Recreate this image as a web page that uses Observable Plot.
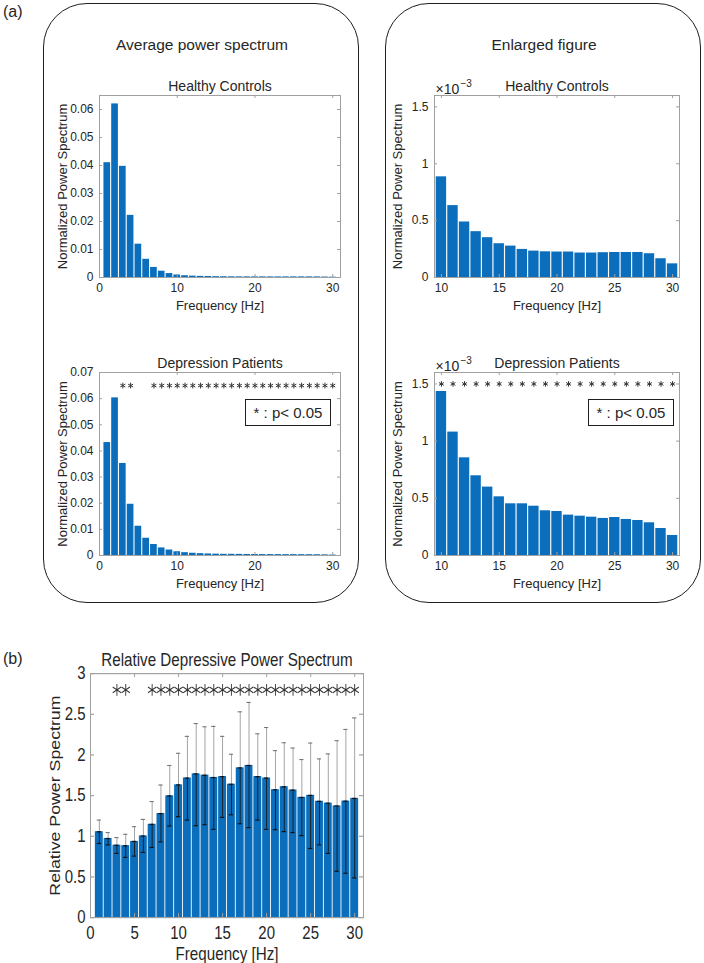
<!DOCTYPE html>
<html><head><meta charset="utf-8">
<script src="https://cdn.jsdelivr.net/npm/d3@7"></script>
<script src="https://cdn.jsdelivr.net/npm/@observablehq/plot@0.6"></script>
<style>
body{margin:0;background:#fff;}
#fig{position:relative;width:704px;height:963px;overflow:hidden;font-family:"Liberation Sans",Arial,sans-serif;color:#262626;background:#fff;}
.lbl{position:absolute;white-space:nowrap;line-height:1;}
.ctr{transform:translate(-50%,-50%);}
.box{position:absolute;border:1.5px solid #1e1e1e;border-radius:44px;box-sizing:border-box;}
.legend{position:absolute;border:1.5px solid #1e1e1e;background:#fff;font-size:15px;display:flex;align-items:center;justify-content:center;box-sizing:border-box;}
svg{position:absolute;}
</style></head><body><div id="fig"></div>
<script>
// ---------------- data ----------------
const freqLow = [1, 2, 3, 4, 5, 6, 7, 8, 9];
const freqHigh = [10, 11, 12, 13, 14, 15, 16, 17, 18, 19, 20, 21, 22, 23, 24, 25, 26, 27, 28, 29, 30];
const freqAll = [1, 2, 3, 4, 5, 6, 7, 8, 9, 10, 11, 12, 13, 14, 15, 16, 17, 18, 19, 20, 21, 22, 23, 24, 25, 26, 27, 28, 29, 30];

// Healthy controls, normalized power (1-9 Hz)
const hcLow = [0.041, 0.062, 0.0397, 0.0222, 0.0119, 0.0065, 0.0036, 0.00225, 0.0014];
// Healthy controls, 10-30 Hz, in units of 1e-3
const hcHigh = [0.885, 0.632, 0.488, 0.403, 0.350, 0.297, 0.276, 0.247, 0.232, 0.226, 0.224, 0.224, 0.215, 0.215, 0.218, 0.220, 0.220, 0.220, 0.209, 0.165, 0.120];
// Depression patients (1-9 Hz)
const dpLow = [0.0432, 0.0603, 0.0352, 0.0196, 0.0112, 0.0066, 0.0042, 0.0029, 0.0021];
// Depression patients, 10-30 Hz, in units of 1e-3
const dpHigh = [1.434, 1.079, 0.854, 0.697, 0.598, 0.513, 0.452, 0.452, 0.431, 0.391, 0.385, 0.353, 0.344, 0.335, 0.324, 0.332, 0.315, 0.306, 0.286, 0.236, 0.175];

// Relative depressive power spectrum (mean, lower and upper error bar ends)
const relMean = [1.055, 0.972, 0.889, 0.883, 0.936, 1.003, 1.146, 1.279, 1.496, 1.631, 1.715, 1.766, 1.750, 1.722, 1.733, 1.639, 1.840, 1.870, 1.733, 1.715, 1.571, 1.608, 1.567, 1.477, 1.502, 1.429, 1.406, 1.372, 1.431, 1.465];
const relLow = [0.911, 0.894, 0.789, 0.740, 0.756, 0.801, 0.862, 0.931, 1.126, 1.240, 1.199, 1.130, 1.142, 1.085, 1.232, 1.264, 1.154, 1.106, 1.199, 1.085, 1.081, 1.057, 1.045, 1.008, 0.850, 0.894, 0.789, 0.569, 0.545, 0.488];
const relHigh = [1.199, 1.045, 0.984, 1.024, 1.118, 1.207, 1.427, 1.630, 1.870, 2.020, 2.228, 2.386, 2.346, 2.350, 2.228, 2.008, 2.530, 2.645, 2.260, 2.337, 2.053, 2.150, 2.085, 1.943, 2.146, 1.951, 2.012, 2.175, 2.313, 2.455];

// significant frequencies (p < 0.05)
const sigAll = [3, 4, 7, 8, 9, 10, 11, 12, 13, 14, 15, 16, 17, 18, 19, 20, 21, 22, 23, 24, 25, 26, 27, 28, 29, 30];
const sigHigh = [10, 11, 12, 13, 14, 15, 16, 17, 18, 19, 20, 21, 22, 23, 24, 25, 26, 27, 28, 29, 30];

// tick labels
const ticksFull = [0, 10, 20, 30];
const ticksEnl = [10, 15, 20, 25, 30];
const ticksRel = [0, 5, 10, 15, 20, 25, 30];
const yTicksHC = [0, 0.01, 0.02, 0.03, 0.04, 0.05, 0.06];
const yTicksDP = [0, 0.01, 0.02, 0.03, 0.04, 0.05, 0.06, 0.07];
const yTicksEnl = [0, 0.5, 1, 1.5];
const yTicksRel = [0, 0.5, 1, 1.5, 2, 2.5, 3];

// ---------------- drawing ----------------
const BLUE = "#0A6EBD";
const FRAME = "#a0a0a0";
const TXT = "#262626";
const FONT = '"Liberation Sans", Arial, sans-serif';
const fig = document.getElementById("fig");

function html(text, cls, style) {
  const d = document.createElement("div");
  d.className = cls;
  d.textContent = text;
  Object.assign(d.style, style);
  fig.appendChild(d);
  return d;
}

// rounded boxes
html("", "box", {left: "43px", top: "3px", width: "316px", height: "600px"});
html("", "box", {left: "385px", top: "3px", width: "316px", height: "600px"});
html("(a)", "lbl", {left: "3px", top: "4px", fontSize: "16px"});
html("(b)", "lbl", {left: "3px", top: "651px", fontSize: "16px"});
html("Average power spectrum", "lbl ctr", {left: "202px", top: "45px", fontSize: "15.5px"});
html("Enlarged figure", "lbl ctr", {left: "544px", top: "45px", fontSize: "15.5px"});

function place(svg, left, top) {
  svg.style.left = left + "px";
  svg.style.top = top + "px";
  fig.appendChild(svg);
}

function small(cfg) {
  const ih = cfg.height - cfg.mT - cfg.mB;
  const iw = cfg.width - cfg.mL - cfg.mR;
  const bars = cfg.freq.map((f, i) => ({f, v: cfg.vals[i]}));
  const marks = [
    Plot.rectY(bars, {x1: d => d.f - cfg.hw, x2: d => d.f + cfg.hw, y1: 0, y2: "v", fill: BLUE}),
    Plot.frame({stroke: FRAME}),
    Plot.tickX(cfg.xTicks, {x: d => d, insetTop: ih - 3, stroke: FRAME}),
    Plot.tickX(cfg.xTicks, {x: d => d, insetBottom: ih - 3, stroke: FRAME}),
    Plot.tickY(cfg.yTicks, {y: d => d, insetRight: iw - 3, stroke: FRAME}),
    Plot.tickY(cfg.yTicks, {y: d => d, insetLeft: iw - 3, stroke: FRAME}),
    Plot.axisX({ticks: cfg.xTicks, tickSize: 0, tickPadding: 6, label: null, tickFormat: d => String(d), fontSize: 12}),
    Plot.axisY({ticks: cfg.yTicks, tickSize: 0, tickPadding: 6, label: null, tickFormat: cfg.yFmt, fontSize: 12}),
    Plot.text([cfg.title], {text: d => d, frameAnchor: "top", dy: -14, fontSize: 14, fill: TXT}),
    Plot.text(["Frequency [Hz]"], {text: d => d, frameAnchor: "bottom", dy: 32, fontSize: 13, fill: TXT}),
    Plot.text(["Normalized Power Spectrum"], {text: d => d, frameAnchor: "left", textAnchor: "middle", rotate: -90, dx: -37, fontSize: 13, fill: TXT})
  ];
  if (cfg.exp) {
    marks.push(Plot.text(["×10"], {text: d => d, frameAnchor: "top-left", textAnchor: "start", dx: 1, dy: -11, fontSize: 14, fill: TXT}));
    marks.push(Plot.text(["−3"], {text: d => d, frameAnchor: "top-left", textAnchor: "start", dx: 26, dy: -16, fontSize: 10, fill: TXT}));
  }
  if (cfg.stars) {
    marks.push(Plot.dot(cfg.stars, {x: d => d, y: () => cfg.starLevel, symbol: "asterisk", r: cfg.starR, stroke: "#333", strokeWidth: 1}));
  }
  const svg = Plot.plot({
    width: cfg.width, height: cfg.height,
    marginLeft: cfg.mL, marginRight: cfg.mR, marginTop: cfg.mT, marginBottom: cfg.mB,
    x: {domain: cfg.xDomain},
    y: {domain: cfg.yDomain},
    style: {fontFamily: FONT, fontSize: "12px", color: TXT, background: "transparent", overflow: "visible"},
    marks
  });
  place(svg, cfg.left, cfg.top);
}

const fmt2 = d => d === 0 ? "0" : d.toFixed(2);
const fmtPlain = d => String(d);

// top-left: healthy controls, full range
small({
  freq: freqLow.concat(freqHigh), vals: hcLow.concat(hcHigh.map(v => v / 1000)),
  xDomain: [0, 31], yDomain: [0, 0.065], xTicks: ticksFull, yTicks: yTicksHC, yFmt: fmt2,
  title: "Healthy Controls", hw: 0.43,
  left: 44, top: 62, width: 306, height: 256, mL: 55, mR: 10, mT: 33, mB: 41
});
// bottom-left: depression patients, full range
small({
  freq: freqLow.concat(freqHigh), vals: dpLow.concat(dpHigh.map(v => v / 1000)),
  xDomain: [0, 31], yDomain: [0, 0.07], xTicks: ticksFull, yTicks: yTicksDP, yFmt: fmt2,
  title: "Depression Patients", hw: 0.43, stars: sigAll, starLevel: 0.065, starR: 2.7,
  left: 44, top: 339, width: 306, height: 256, mL: 55, mR: 10, mT: 33, mB: 40
});
// top-right: healthy controls, enlarged
small({
  freq: freqHigh, vals: hcHigh,
  xDomain: [9.4, 30.6], yDomain: [0, 1.6], xTicks: ticksEnl, yTicks: yTicksEnl, yFmt: fmtPlain,
  title: "Healthy Controls", hw: 0.45, exp: true,
  left: 386, top: 62, width: 304, height: 256, mL: 48, mR: 11, mT: 33, mB: 41
});
// bottom-right: depression patients, enlarged
small({
  freq: freqHigh, vals: dpHigh,
  xDomain: [9.4, 30.6], yDomain: [0, 1.6], xTicks: ticksEnl, yTicks: yTicksEnl, yFmt: fmtPlain,
  title: "Depression Patients", hw: 0.45, exp: true, stars: sigHigh, starLevel: 1.5, starR: 2.6,
  left: 386, top: 339, width: 304, height: 256, mL: 48, mR: 11, mT: 33, mB: 40
});

// legends
html("* : p< 0.05", "legend", {left: "245px", top: "399px", width: "86px", height: "27px"});
html("* : p< 0.05", "legend", {left: "588px", top: "399px", width: "86px", height: "27px"});

// panel (b): drawn at reduced height, then stretched vertically (as in the reference image)
(function () {
  const S = 1.2;
  const W = 380, H = 323 / S, mL = 90, mR = 17, mT = 33 / S, mB = 46 / S;
  const ih = H - mT - mB, iw = W - mL - mR;
  const rows = freqAll.map((f, i) => ({f, v: relMean[i], lo: relLow[i], hi: relHigh[i]}));
  const cap = 0.24;
  const svg = Plot.plot({
    width: W, height: H, marginLeft: mL, marginRight: mR, marginTop: mT, marginBottom: mB,
    x: {domain: [0, 31]},
    y: {domain: [0, 3]},
    style: {fontFamily: FONT, fontSize: "15px", color: TXT, background: "transparent", overflow: "visible"},
    marks: [
      Plot.rectY(rows, {x1: d => d.f - 0.45, x2: d => d.f + 0.45, y1: 0, y2: "v", fill: BLUE}),
      Plot.ruleX(rows, {x: "f", y1: "v", y2: "hi", stroke: "#9a9a9a", strokeWidth: 0.9}),
      Plot.ruleY(rows, {y: "hi", x1: d => d.f - cap, x2: d => d.f + cap, stroke: "#777", strokeWidth: 0.9}),
      Plot.ruleX(rows, {x: "f", y1: "lo", y2: "v", stroke: "#1a1a1a", strokeWidth: 0.9}),
      Plot.ruleY(rows, {y: "lo", x1: d => d.f - cap, x2: d => d.f + cap, stroke: "#111", strokeWidth: 1}),
      Plot.ruleY(rows, {y: "v", x1: d => d.f - cap, x2: d => d.f + cap, stroke: "#111", strokeWidth: 1}),
      Plot.frame({stroke: FRAME}),
      Plot.tickX(ticksRel, {x: d => d, insetTop: ih - 3.3, stroke: FRAME}),
      Plot.tickX(ticksRel, {x: d => d, insetBottom: ih - 3.3, stroke: FRAME}),
      Plot.tickY(yTicksRel, {y: d => d, insetRight: iw - 4, stroke: FRAME}),
      Plot.tickY(yTicksRel, {y: d => d, insetLeft: iw - 4, stroke: FRAME}),
      Plot.axisX({ticks: ticksRel, tickSize: 0, tickPadding: 7, label: null, tickFormat: fmtPlain, fontSize: 15}),
      Plot.axisY({ticks: yTicksRel, tickSize: 0, tickPadding: 5, label: null, tickFormat: fmtPlain, fontSize: 15}),
      Plot.dot(sigAll, {x: d => d, y: () => 2.8, symbol: "asterisk", r: 4.6, stroke: "#333", strokeWidth: 0.9}),
      Plot.text(["Relative Depressive Power Spectrum"], {text: d => d, frameAnchor: "top", dy: -17, fontSize: 15.2, fill: TXT}),
      Plot.text(["Frequency [Hz]"], {text: d => d, frameAnchor: "bottom", dy: 35, fontSize: 15.2, fill: TXT}),
      Plot.text(["Relative Power Spectrum"], {text: d => d, frameAnchor: "left", textAnchor: "middle", rotate: -90, dx: -35, fontSize: 14.8, fill: TXT})
    ]
  });
  svg.style.transformOrigin = "0 0";
  svg.style.transform = "scaleY(" + S + ")";
  place(svg, 0, 640);
})();
</script>
</body></html>
